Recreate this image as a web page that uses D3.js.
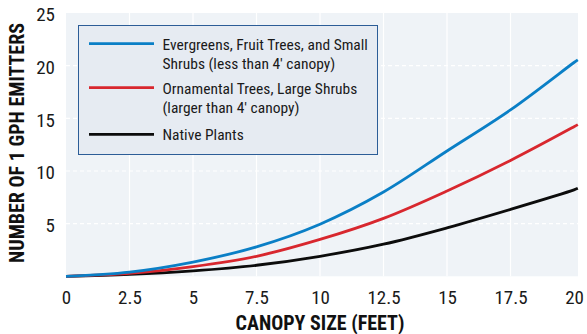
<!DOCTYPE html>
<html>
<head>
<meta charset="utf-8">
<script src="https://cdn.jsdelivr.net/npm/d3@7"></script>
<style>
  html, body { margin: 0; padding: 0; background: #fff; }
  svg { display: block; }
  text { font-family: Roboto, "Liberation Sans Narrow", "DejaVu Sans Condensed", sans-serif; font-stretch: condensed; }
</style>
</head>
<body>
<svg id="chart" width="587" height="334"></svg>
<script>
// Canopy size (feet) and emitter counts for each plant group
const canopy = [0, 2.5, 5, 7.5, 10, 12.5, 15, 17.5, 20, 20.15];
const evergreens = [0, 0.4, 1.35, 2.8, 4.95, 8.0, 11.9, 15.8, 20.3, 20.55];
const ornamental = [0, 0.27, 0.92, 1.9, 3.5, 5.5, 8.1, 11.0, 14.2, 14.4];
const nativePlants = [0, 0.18, 0.52, 1.05, 1.9, 3.05, 4.6, 6.35, 8.2, 8.35];

const xTicks = [0, 2.5, 5, 7.5, 10, 12.5, 15, 17.5, 20];
const yTicks = [5, 10, 15, 20, 25];

const seriesNames = [
  ["Evergreens, Fruit Trees, and Small", "Shrubs (less than 4\u2032 canopy)"],
  ["Ornamental Trees, Large Shrubs", "(larger than 4\u2032 canopy)"],
  ["Native Plants"]
];
const seriesColors = ["#0a7fc6", "#d8272e", "#0c0c0c"];
const seriesValues = [evergreens, ornamental, nativePlants];

const svg = d3.select("#chart");
const plot = { left: 66, right: 578, top: 13, bottom: 276.3 };

// 20 ft sits at ~574; the plotting area runs a touch past it
const x = d3.scaleLinear().domain([0, 20]).range([plot.left, 574]);
const y = d3.scaleLinear().domain([0, 25]).range([plot.bottom, plot.top]);

// plotting area background
svg.append("rect")
  .attr("x", plot.left).attr("y", plot.top)
  .attr("width", plot.right - plot.left).attr("height", plot.bottom - plot.top)
  .attr("fill", "#eff3f7");

// vertical grid (solid) and horizontal grid (dashed)
const grid = svg.append("g");
grid.selectAll("line.v").data(xTicks.filter(d => d > 0 && d < 20)).join("line")
  .attr("x1", d => x(d)).attr("x2", d => x(d))
  .attr("y1", plot.top).attr("y2", plot.bottom)
  .attr("stroke", "#ffffff").attr("stroke-width", 1.2);
grid.selectAll("line.h").data(yTicks.filter(d => d < 25)).join("line")
  .attr("x1", plot.left).attr("x2", plot.right)
  .attr("y1", d => y(d)).attr("y2", d => y(d))
  .attr("stroke", "#ffffff").attr("stroke-width", 1.2)
  .attr("stroke-dasharray", "4,3");

// axes (labels only)
const xAxis = svg.append("g")
  .attr("transform", `translate(0,${plot.bottom})`)
  .call(d3.axisBottom(x).tickValues(xTicks).tickFormat(d3.format("")).tickSize(0).tickPadding(14));
const yAxis = svg.append("g")
  .attr("transform", `translate(${plot.left},0)`)
  .call(d3.axisLeft(y).tickValues(yTicks).tickFormat(d3.format("")).tickSize(0).tickPadding(11));
[xAxis, yAxis].forEach(a => {
  a.select(".domain").remove();
  a.selectAll("text")
    .attr("fill", "#1a1a1a")
    .style("font-size", "19px");
});
yAxis.selectAll("text").attr("dy", "0.42em");

// curves
const line = d3.line()
  .x((d, i) => x(canopy[i]))
  .y(d => y(d))
  .curve(d3.curveCatmullRom.alpha(0.5));
svg.append("g").selectAll("path").data(seriesValues.slice().reverse()).join("path")
  .attr("d", d => line(d))
  .attr("fill", "none")
  .attr("stroke", (d, i) => seriesColors.slice().reverse()[i])
  .attr("stroke-width", 2.8)
  .attr("stroke-linecap", "butt");

// legend
const legend = svg.append("g");
legend.append("rect")
  .attr("x", 78.5).attr("y", 25.5).attr("width", 299).attr("height", 129)
  .attr("fill", "#e6ebf2").attr("stroke", "#2c5d97").attr("stroke-width", 1);
const legendRows = [43.7, 87.7, 134.3];
const textBaselines = [[49.5, 68.5], [94, 112.5], [139.5]];
seriesNames.forEach((lines, i) => {
  legend.append("line")
    .attr("x1", 89).attr("x2", 154)
    .attr("y1", legendRows[i]).attr("y2", legendRows[i])
    .attr("stroke", seriesColors[i]).attr("stroke-width", 2.8);
  lines.forEach((t, j) => {
    legend.append("text")
      .attr("x", 162.5).attr("y", textBaselines[i][j])
      .attr("fill", "#1a1a1a")
      .style("font-size", "15.5px")
      .text(t);
  });
});

// axis titles
svg.append("text")
  .attr("x", 320).attr("y", 330)
  .attr("text-anchor", "middle")
  .attr("fill", "#111")
  .style("font-size", "20px").style("font-weight", "bold")
  .text("CANOPY SIZE (FEET)");
svg.append("text")
  .attr("transform", "translate(24,143) rotate(-90)")
  .attr("text-anchor", "middle")
  .attr("fill", "#111")
  .style("font-size", "20px").style("font-weight", "bold")
  .text("NUMBER OF 1 GPH EMITTERS");
</script>
</body>
</html>
